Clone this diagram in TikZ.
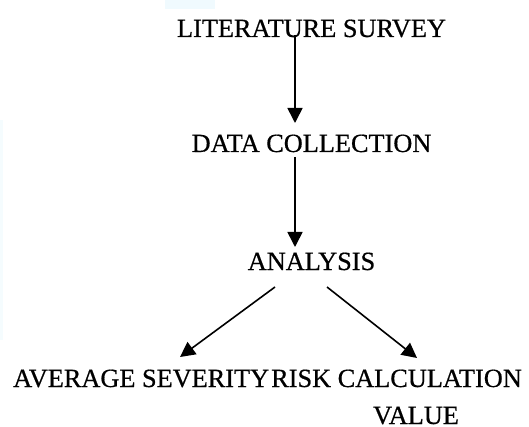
\documentclass[tikz,border=0pt]{standalone}
\usepackage{fontspec}
\setmainfont{Liberation Serif}[FakeBold=0.6]
\usetikzlibrary{arrows.meta}
\begin{document}
\begin{tikzpicture}[x=1pt,y=-1pt,
  lbl/.style={inner sep=0pt,font=\fontsize{26.3}{30}\selectfont},
  arr/.style={line width=1.6pt,-{Triangle[length=15pt,width=15pt]}}]
\useasboundingbox (0,0) rectangle (529,427);
\fill[white] (0,0) rectangle (529,427);
\fill[cyan!6] (165,0) rectangle (215,9);
\fill[cyan!4] (0,120) rectangle (3,340);
\node[lbl,anchor=base] (lit) at (311.5,37) {LITERATURE SURVEY};
\node[lbl,anchor=base] (data) at (311.5,152) {DATA COLLECTION};
\node[lbl,anchor=base] (ana) at (311.5,270) {ANALYSIS};
\node[lbl,anchor=base west] (avg) at (13,387) {AVERAGE SEVERITY};
\node[lbl,anchor=base east] (risk) at (522,387) {RISK CALCULATION};
\node[lbl,anchor=base] (val) at (416,424) {VALUE};
\draw[arr] ([xshift=-16.5pt,yshift=2pt]lit.base) -- ([xshift=-16.5pt,yshift=29pt]data.base);
\draw[arr] ([xshift=-16.5pt,yshift=-5pt]data.base) -- ([xshift=-16.5pt,yshift=23pt]ana.base);
\draw[arr] ([xshift=-36.5pt,yshift=-17pt]ana.base) -- ([xshift=167pt,yshift=30pt]avg.base west);
\draw[arr] ([xshift=15.5pt,yshift=-17pt]ana.base) -- ([xshift=-105pt,yshift=29pt]risk.base east);
\end{tikzpicture}
\end{document}
